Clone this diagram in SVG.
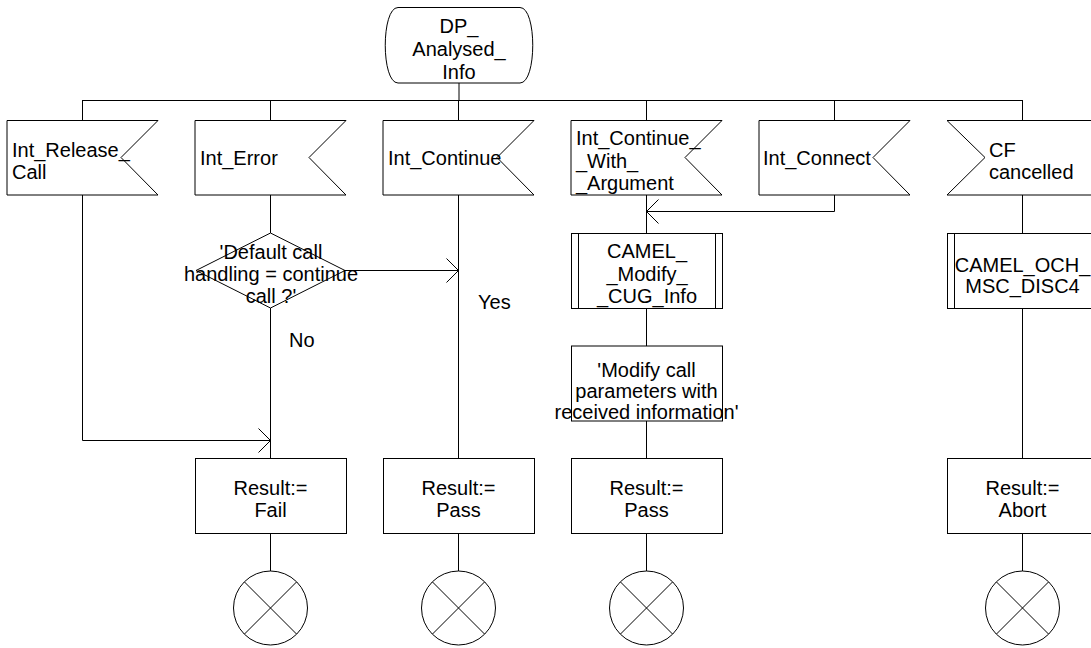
<svg xmlns="http://www.w3.org/2000/svg" width="1091" height="648" viewBox="0 0 1091 648">
<style>
.s{fill:#fff;stroke:#000;stroke-width:1}
.l{fill:none;stroke:#000;stroke-width:1}
text{font-family:"Liberation Sans",Arial,sans-serif;font-size:20px;fill:#000}
.c{text-anchor:middle}
</style>
<defs>
<marker id="arr" viewBox="0 0 14 26" markerWidth="14" markerHeight="26" refX="13" refY="13" orient="auto" markerUnits="userSpaceOnUse">
<path d="M1,1 L13,13 L1,25" fill="none" stroke="#000" stroke-width="1"/>
</marker>
<g id="stopsym"><circle r="37" class="s"/><path class="l" d="M-26,-26 L26,26 M26,-26 L-26,26"/></g>
</defs>
<rect width="1091" height="648" fill="#fff"/>
<g id="connectors">
<path class="l" d="M459,83 V100.5 M82.5,100.5 H1022.5"/>
<path class="l" d="M82.5,100 V120 M270.5,100 V120 M458.5,100 V120 M646.5,100 V120 M834.5,100 V120 M1022.5,100 V120"/>
<path class="l" d="M82.5,195 V440.5 H270.5" marker-end="url(#arr)"/>
<path class="l" d="M270.5,195 V233 M270.5,308 V458 M270.5,533 V571"/>
<path class="l" d="M345,270.5 H458.5" marker-end="url(#arr)"/>
<path class="l" d="M458.5,195 V458 M458.5,533 V571"/>
<path class="l" d="M834.5,195 V211.5 H646.5" marker-end="url(#arr)"/>
<path class="l" d="M646.5,195 V233 M646.5,308 V346 M646.5,421 V458 M646.5,533 V571"/>
<path class="l" d="M1022.5,195 V233 M1022.5,308 V458 M1022.5,533 V571"/>
</g>
<g id="start">
<path class="s" d="M398,7.5 H520 C537,7.5 537,83 520,83 H398 C381,83 381,7.5 398,7.5 Z"/>
<text class="c" x="459" y="33">DP_</text>
<text class="c" x="459" y="56">Analysed_</text>
<text class="c" x="459" y="79">Info</text>
</g>
<g id="in_release">
<path class="s" d="M7,120.5 H158 L121,157.5 L158,195 H7 Z"/>
<text x="12" y="157">Int_Release_</text>
<text x="12" y="179">Call</text>
</g>
<g id="in_error">
<path class="s" d="M195,120.5 H346 L309,157.5 L346,195 H195 Z"/>
<text x="200" y="165">Int_Error</text>
</g>
<g id="in_continue">
<path class="s" d="M383,120.5 H534 L497,157.5 L534,195 H383 Z"/>
<text x="388" y="165">Int_Continue</text>
</g>
<g id="in_continue_arg">
<path class="s" d="M571,120.5 H722 L685,157.5 L722,195 H571 Z"/>
<text x="576" y="145">Int_Continue_</text>
<text x="576" y="168">_With_</text>
<text x="576" y="190">_Argument</text>
</g>
<g id="in_connect">
<path class="s" d="M759,120.5 H910 L873,157.5 L910,195 H759 Z"/>
<text x="763" y="165">Int_Connect</text>
</g>
<g id="in_cf">
<path class="s" d="M947,120.5 H1098 V195 H947 L985,157.5 Z"/>
<text x="989" y="157">CF</text>
<text x="989" y="179">cancelled</text>
</g>
<g id="decision">
<path class="s" d="M270.5,233 L345,270.5 L270.5,308 L196,270.5 Z"/>
<text class="c" x="271" y="259">'Default call</text>
<text class="c" x="271" y="281">handling = continue</text>
<text class="c" x="271" y="303">call ?'</text>
</g>
<g id="lbl_yes"><text x="478" y="309">Yes</text></g>
<g id="lbl_no"><text x="289" y="347">No</text></g>
<g id="proc_cug">
<rect class="s" x="571.5" y="233.5" width="151" height="75"/>
<path class="l" d="M578.5,233.5 V308.5 M715.5,233.5 V308.5"/>
<text class="c" x="647" y="258">CAMEL_</text>
<text class="c" x="647" y="281">_Modify_</text>
<text class="c" x="647" y="303">_CUG_Info</text>
</g>
<g id="task_modify">
<rect class="s" x="571.5" y="346" width="151" height="75"/>
<text class="c" x="646.5" y="377">'Modify call</text>
<text class="c" x="646.5" y="398">parameters with</text>
<text class="c" x="646.5" y="419">received information'</text>
</g>
<g id="proc_och">
<rect class="s" x="947.5" y="233.5" width="151" height="75"/>
<path class="l" d="M954.5,233.5 V308.5"/>
<text class="c" x="1022.5" y="272">CAMEL_OCH_</text>
<text class="c" x="1022.5" y="293">MSC_DISC4</text>
</g>
<g id="res_fail">
<rect class="s" x="195.5" y="458.5" width="151" height="75"/>
<text class="c" x="270.5" y="495">Result:=</text>
<text class="c" x="270.5" y="517">Fail</text>
</g>
<g id="res_pass1">
<rect class="s" x="383.5" y="458.5" width="151" height="75"/>
<text class="c" x="458.5" y="495">Result:=</text>
<text class="c" x="458.5" y="517">Pass</text>
</g>
<g id="res_pass2">
<rect class="s" x="571.5" y="458.5" width="151" height="75"/>
<text class="c" x="646.5" y="495">Result:=</text>
<text class="c" x="646.5" y="517">Pass</text>
</g>
<g id="res_abort">
<rect class="s" x="947.5" y="458.5" width="151" height="75"/>
<text class="c" x="1022.5" y="495">Result:=</text>
<text class="c" x="1022.5" y="517">Abort</text>
</g>
<g id="stop1"><use href="#stopsym" x="270.5" y="608"/></g>
<g id="stop2"><use href="#stopsym" x="458.5" y="608"/></g>
<g id="stop3"><use href="#stopsym" x="646.5" y="608"/></g>
<g id="stop4"><use href="#stopsym" x="1022.5" y="608"/></g>
</svg>
